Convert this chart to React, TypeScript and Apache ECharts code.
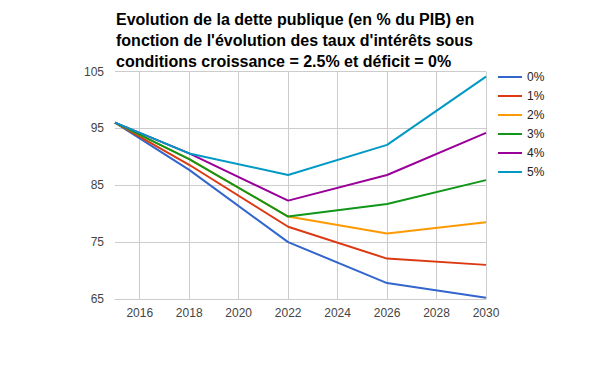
import React, { useEffect, useRef } from "react";
import * as echarts from "echarts";

const allYears = ["2015", "2016", "2017", "2018", "2019", "2020", "2021", "2022", "2023", "2024", "2025", "2026", "2027", "2028", "2029", "2030"];
const pointYears = ["2015", "2018", "2022", "2026", "2030"];
const seriesNames = ["0%", "1%", "2%", "3%", "4%", "5%"];
const rate0 = [96, 87.7, 75.0, 67.8, 65.2];
const rate1 = [96, 88.6, 77.7, 72.1, 71.0];
const rate2 = [96, 89.6, 79.5, 76.5, 78.5];
const rate3 = [96, 89.6, 79.5, 81.7, 85.9];
const rate4 = [96, 90.6, 82.3, 86.8, 94.2];
const rate5 = [96, 90.6, 86.8, 92.1, 104.1];
const colors = ["#3366cc", "#dc3912", "#ff9900", "#109618", "#990099", "#0099c6"];

const seriesValues = [rate0, rate1, rate2, rate3, rate4, rate5];

export default function App() {
  const ref = useRef<HTMLDivElement>(null);
  useEffect(() => {
    if (!ref.current) return;
    const chart = echarts.init(ref.current, null, { renderer: "svg" });
    const evenYear = (_i: number, v: string) => Number(v) % 2 === 0;
    chart.setOption({
      animation: false,
      backgroundColor: "#ffffff",
      color: colors,
      title: {
        text: "Evolution de la dette publique (en % du PIB) en\nfonction de l'évolution des taux d'intérêts sous\nconditions croissance = 2.5% et déficit = 0%",
        left: 111,
        top: 4,
        textStyle: {
          fontFamily: "Liberation Sans, Arial, sans-serif",
          fontSize: 16,
          fontWeight: "bold",
          color: "#000000",
          lineHeight: 21,
        },
      },
      legend: {
        orient: "vertical",
        left: 498,
        top: 71,
        padding: 0,
        icon: "rect",
        itemWidth: 24,
        itemHeight: 2,
        itemGap: 7,
        textStyle: {
          fontFamily: "Liberation Sans, Arial, sans-serif",
          fontSize: 12,
          color: "#222222",
        },
        data: seriesNames,
      },
      grid: {
        left: 115,
        right: 114,
        top: 71.5,
        bottom: 72,
        containLabel: false,
      },
      xAxis: {
        type: "category",
        boundaryGap: false,
        data: allYears,
        axisLine: { show: true, lineStyle: { color: "#cccccc", width: 1 } },
        axisTick: { show: false },
        axisLabel: {
          interval: evenYear,
          color: "#444444",
          fontFamily: "Liberation Sans, Arial, sans-serif",
          fontSize: 12,
          margin: 8,
        },
        splitLine: {
          show: true,
          interval: evenYear,
          lineStyle: { color: "#cccccc", width: 1 },
        },
      },
      yAxis: {
        type: "value",
        min: 65,
        max: 105,
        interval: 10,
        axisLine: { show: false },
        axisTick: { show: false },
        axisLabel: {
          color: "#444444",
          fontFamily: "Liberation Sans, Arial, sans-serif",
          fontSize: 12,
          margin: 11,
        },
        splitLine: { lineStyle: { color: "#cccccc", width: 1 } },
      },
      series: seriesNames.map((name, si) => ({
        name,
        type: "line",
        showSymbol: false,
        symbol: "none",
        lineStyle: { width: 2 },
        data: pointYears.map((y, i) => [y, seriesValues[si][i]]),
      })),
    });
    return () => chart.dispose();
  }, []);
  return (
    <div style={{ position: "fixed", left: 0, top: 0 }}>
      <div ref={ref} style={{ width: 600, height: 371 }} />
    </div>
  );
}
